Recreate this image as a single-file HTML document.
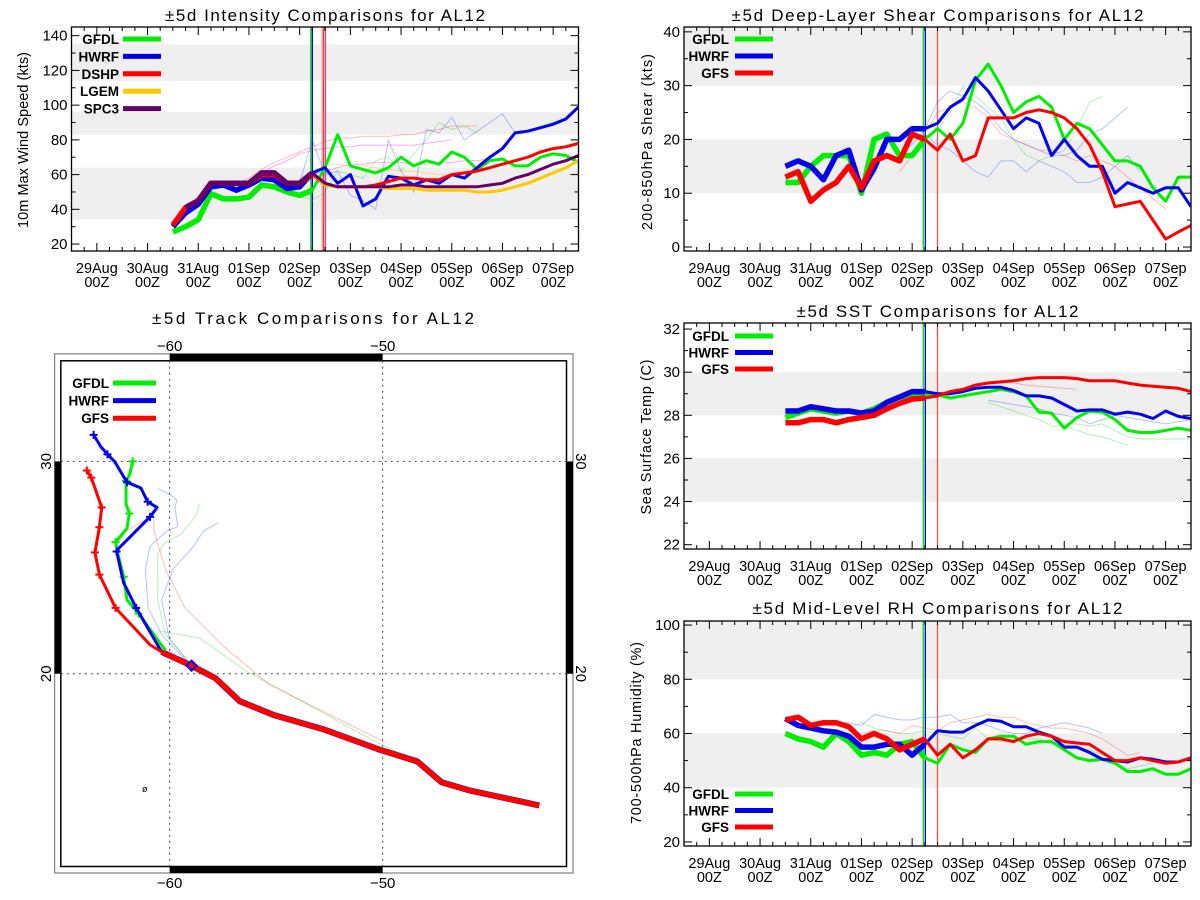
<!DOCTYPE html>
<html><head><meta charset="utf-8">
<style>
html,body{margin:0;padding:0;background:#fff;}
svg{display:block;font-family:"Liberation Sans",sans-serif;}
</style></head>
<body>
<svg id="chart" width="1200" height="900" viewBox="0 0 1200 900" xmlns="http://www.w3.org/2000/svg"></svg>
<script>
// ---------- DATA ----------
const times = [1.5,1.75,2,2.25,2.5,2.75,3,3.25,3.5,3.75,4,4.25,4.5,4.75,5,5.25,5.5,5.75,6,6.25,6.5,6.75,7,7.25,7.5,7.75,8,8.25,8.5,8.75,9,9.25,9.5];
const dayLabels = ['29Aug','30Aug','31Aug','01Sep','02Sep','03Sep','04Sep','05Sep','06Sep','07Sep'];
const hourLabel = '00Z';

// intensity (kts)
const intGFDL = [27,30,34,49,46,46,47,54,53,50,48,51,64,83,65,63,61,64,70,65,68,66,73,70,63,68,69,65,65,70,72,71,67];
const intHWRF = [30,38,43,53,54,51,54,58,57,52,53,61,64,55,60,42,46,59,58,54,57,55,60,58,64,70,75,84,85,87,89,92,99];
const intDSHP = [31,41,45,55,55,55,55,60,60,55,55,60,54,53,53,53,54,56,58,58,57,57,60,61,62,64,66,68,70,73,75,76,78];
const intLGEMStart = 4.25;
const intLGEM = [61,54,53,53,53,53,52,52,52,51,51,51,51,50,50,51,53,55,58,61,64,68];
const intSPC3Start = 1.75;
const intSPC3 = [41,45,55,55,55,55,61,61,55,55,61,55,53,53,53,53,53,54,54,53,53,53,53,53,54,55,58,60,63,66,68,71];
const intFaintRed = [55,58,63,67,70,73,76,79,81,81,82,82,82,83,83,85,86,88,88,88];
const intFaintMag = [57,61,65,68,72,74,75,76,76,77,77,77,77,77,78,79,80];
const intFaintBlue = [58,52,55,80,60,62,48,45,40,80,62,50,86,84,93,80,85,90,95,84];
const intFaintGreen = [48,45,50,62,60,58,68,70,62,72,80,90,86,88,84];
const intFaintOrange = [66,66,65,65,64,63,62,62,61,60,60,60,61];
const intFaintMag2 = [55,60,62,64,66,66,67,67,67,66,66,67,67,68,68,69,69];

// shear (kts)
const shrGFDL = [12,12,15,17,17,17,10,20,21,17,17,20,22,20,23,31,34,30,25,27,28,26,20,23,22,19,16,16,15,11,8.5,13,13];
const shrHWRF = [15,16,15,12.5,17,18,10.6,14.6,20,20,22,22,23,26,27.5,31.5,29,25.5,22,24,23,17,20,17,15,15,10,12,11,10,11,11,7.5];
const shrGFS = [13,14,8.5,10.6,12,15,11,16,17,16,21,20,18,21,16,17,24,24,24,25,25.5,25,24,22,19,14,7.5,8,8.5,5,1.5,2.8,4];
const shrFaintBlue1 = [17,19,22,27,29,28,27,25,22,20,19,18,17,17,18,21,22,24,26];
const shrFaintBlue2 = [20,21,19,18,16,14,13,16,16,14,16,15,14,12,12,13,15,17,14];
const shrFaintRed = [14,17,21,25,26,27,26,24,21,20,19,18,18,17,16,17,16,15,13,11,9,7];
const shrFaintGreen = [21,23,22,25,30,28,26,24,20,17,16,17,18,22,27,28];

// SST (C)
const sstGFDL = [27.9,28.1,28.3,28.2,28.1,28.2,28.1,28.3,28.6,28.85,28.9,28.95,28.95,28.8,28.9,29.0,29.1,29.2,29.1,28.9,28.15,28.1,27.4,27.9,28.2,28.15,27.8,27.3,27.2,27.2,27.3,27.4,27.3];
const sstHWRF = [28.2,28.2,28.4,28.3,28.2,28.2,28.1,28.2,28.6,28.85,29.1,29.1,29.0,29.0,29.1,29.25,29.3,29.3,29.15,28.9,28.9,28.8,28.5,28.2,28.25,28.25,28.05,28.15,28.05,27.85,28.2,27.95,27.85];
const sstGFS = [27.65,27.65,27.8,27.8,27.65,27.8,27.9,28.0,28.3,28.55,28.75,28.8,28.9,29.1,29.2,29.4,29.5,29.55,29.6,29.7,29.75,29.75,29.75,29.7,29.6,29.6,29.6,29.5,29.4,29.35,29.3,29.25,29.1];
const sstFaintGreen1 = [28.6,28.4,28.2,28.0,27.8,27.5,27.5,27.3,27.1,27.0,26.8,26.6];
const sstFaintGreen2 = [28.3,28.0,27.6,27.6,27.5,27.6,27.3,27.0,26.9,26.9,26.9,26.9,26.9];
const sstFaintBlue = [28.7,28.6,28.5,28.4,28.3,28.1,28.0,27.9,27.6,27.8,28.0,27.9,27.8,27.7,27.6,27.7,27.8,27.3,27.6];
const sstFaintRed = [29.5,29.6,29.5,29.4,29.35,29.3,29.25,29.2];

// RH (%)
const rhGFDL = [60,58,57,55,60,57,52,53,52,56,57,51,49,56,54,53,58,59,59,56,57,57,54,51,50,50.5,49,46,46,47,45,45,47];
const rhHWRF = [65.5,63,62,61,60.5,59,55,55,56,56,52,56,61,60.5,60.5,63,65,64.5,62.5,62.5,60.5,59,55,55,53,50.5,50,49.5,51,50.5,49.5,49.5,51];
const rhGFS = [65,66,63,64,64,62.5,58,60,58,54,56,58,52,56,51,54,58,58,57,59,60,59,57,56.5,56,53,50,50,51,50,49,49.5,51];
const rhFaintBlue = [64,64,63,67,66,65,65,66,66,67,64,64,63,61,60,60,62,63,64,63,62,60];
const rhFaintRed = [60,61,61,60,63,62,61,64,65,66,67,66,66,64,63,62,62,61,60,58,55,52,53];
const rhFaintGreen = [60,62,64,62,61,60,60,61,60,59,58,62,58,57,58,58,58,56,56,55,54,52,50,47,48,49];

// track (lon, lat)
const histLon = [-42.65,-45.95,-47.24,-48.38,-50.11,-52.81,-55.08,-56.70,-57.84,-58.97,-60.38];
const histLat = [13.8,14.51,14.89,15.87,16.41,17.39,18.04,18.70,19.78,20.38,21.03];
const gfsLon = [-60.38,-60.92,-62.54,-63.30,-63.51,-63.30,-63.19,-63.68,-63.89];
const gfsLat = [21.03,21.36,23.10,24.67,25.71,26.90,27.83,29.24,29.57];
const hwrfLon = [-60.38,-61.57,-62.16,-62.49,-62.38,-60.92,-60.59,-61.03,-61.35,-62.00,-62.59,-62.92,-63.24,-63.57];
const hwrfLat = [21.03,23.10,24.29,25.76,25.92,27.39,27.83,28.10,28.75,29.02,30.0,30.33,30.71,31.25];
const gfdlLon = [-60.2,-61.46,-62.0,-62.16,-62.43,-62.54,-62.0,-61.89,-62.05,-62.05,-61.89,-61.73];
const gfdlLat = [21.1,22.83,23.48,24.57,25.65,26.20,26.85,27.55,27.99,29.08,29.35,30.0];
const faintBlueALon = [-58.94,-60.38,-61.01,-61.14,-60.92,-60.11,-59.62,-59.75,-59.66,-60.02,-60.56];
const faintBlueALat = [20.31,21.85,23.12,24.93,26.01,26.74,26.92,27.83,28.19,28.46,28.73];
const faintBlueBLon = [-58.94,-60.02,-60.38,-59.84,-58.94,-58.39,-57.71];
const faintBlueBLat = [20.31,21.67,23.48,24.93,25.92,26.74,27.10];
const faintGreenALon = [-58.94,-60.2,-60.56,-60.56,-60.2,-59.48,-58.75,-58.61];
const faintGreenALat = [20.4,21.85,23.48,25.65,26.2,26.56,27.46,28.0];
const faintGreenBLon = [-60.56,-58.57,-56.41,-54.24,-50.63,-48.47];
const faintGreenBLat = [22.03,21.67,20.13,18.95,16.96,15.87];
const faintRedLon = [-62.55,-62.0,-61.1,-60.74,-60.74,-60.2,-59.3,-57.49,-55.32,-49.91];
const faintRedLat = [26.01,26.74,27.28,27.46,26.74,24.93,23.12,21.3,19.49,16.78];

// ---------- DRAWING ----------
const svg = document.getElementById('chart');
const NS = 'http://www.w3.org/2000/svg';
function mk(tag, attrs, parent){const e=document.createElementNS(NS,tag);for(const k in attrs)e.setAttribute(k,attrs[k]);(parent||svg).appendChild(e);return e;}

function panel(cfg){
  const g = mk('g',{});
  
  
  const tmin=-0.5,tmax=9.5;
  const xs = t => cfg.x0 + (t-tmin)/(tmax-tmin)*(cfg.x1-cfg.x0);
  const ys = v => cfg.y1 - (v-cfg.ymin)/(cfg.ymax-cfg.ymin)*(cfg.y1-cfg.y0);
  // bands
  cfg.bands.forEach(b=>{
    const r = mk('rect',{x:cfg.x0,y:ys(Math.min(b[1],cfg.ymax)),width:cfg.x1-cfg.x0,height:ys(b[0])-ys(Math.min(b[1],cfg.ymax)),fill:'#efefef'},g);
    
    
  });
  // clip
  const cid = cfg.name+'-clip';
  const cp = mk('clipPath',{id:cid},g);
  mk('rect',{x:cfg.x0,y:cfg.y0,width:cfg.x1-cfg.x0,height:cfg.y1-cfg.y0},cp);
  const pg = mk('g',{'clip-path':'url(#'+cid+')'},g);
  // vertical lines
  cfg.vlines.forEach(v=>{
    if(v.band){
      const r = mk('rect',{x:xs(v.t)-2.5,y:cfg.y0,width:5,height:cfg.y1-cfg.y0,fill:v.band,opacity:0.7},pg);
      
      
    }
    const l = mk('line',{x1:xs(v.t),x2:xs(v.t),y1:cfg.y0,y2:cfg.y1,stroke:v.c,'stroke-width':1.3},pg);
    
    
  });
  const line = (vals,start,color,w,op,nm) => {
    const pts = vals.map((v,i)=>xs(start+i*0.25).toFixed(1)+','+ys(v).toFixed(1)).join(' ');
    const p = mk('polyline',{points:pts,fill:'none',stroke:color,'stroke-width':w,opacity:op,'stroke-linejoin':'round'},pg);
    
    
  };
  cfg.faint.forEach(f=>line(f.vals,f.start,f.c,1,0.35,'faint-forecast-line'));
  cfg.series.forEach(s=>{
    const start = s.start===undefined?1.5:s.start;
    const split = Math.round((4.25-start)/0.25);
    if(split>0){
      line(s.vals.slice(0,split+1),start,s.c,5.5,1,s.label.toLowerCase()+'-history-line');
      line(s.vals.slice(split),4.25,s.c,3,1,s.label.toLowerCase()+'-forecast-line');
    } else line(s.vals,start,s.c,3,1,s.label.toLowerCase()+'-forecast-line');
  });
  // frame
  const fr = mk('rect',{x:cfg.x0,y:cfg.y0,width:cfg.x1-cfg.x0,height:cfg.y1-cfg.y0,fill:'none',stroke:'#000','stroke-width':1.3},g);
  
  
  // x ticks
  for(let k=0;k<=40;k++){
    const t=tmin+k*0.25; const major = Math.abs(t-Math.round(t))<1e-6;
    const L = major?8:4;
    mk('line',{x1:xs(t),x2:xs(t),y1:cfg.y1,y2:cfg.y1-L,stroke:'#000','stroke-width':1},g);
    mk('line',{x1:xs(t),x2:xs(t),y1:cfg.y0,y2:cfg.y0+L,stroke:'#000','stroke-width':1},g);
  }
  dayLabels.forEach((d,i)=>{
    const t1 = mk('text',{x:xs(i),y:cfg.y1+22,'text-anchor':'middle','font-size':14.5},g);
    t1.textContent = d;
    
    
    const t2 = mk('text',{x:xs(i),y:cfg.y1+36,'text-anchor':'middle','font-size':14.5},g);
    t2.textContent = hourLabel;
    
    
  });
  // y ticks
  for(let v=cfg.yt0; v<=cfg.yt1+1e-6; v+=cfg.ystep/2){
    const major = Math.abs(((v-cfg.yt0)/cfg.ystep)-Math.round((v-cfg.yt0)/cfg.ystep))<1e-6;
    const L = major?8:4;
    mk('line',{x1:cfg.x0,x2:cfg.x0+L,y1:ys(v),y2:ys(v),stroke:'#000'},g);
    mk('line',{x1:cfg.x1,x2:cfg.x1-L,y1:ys(v),y2:ys(v),stroke:'#000'},g);
    if(major){
      const t = mk('text',{x:cfg.x0-4,y:ys(v)+5,'text-anchor':'end','font-size':15},g);
      t.textContent = String(Math.round(v));
      
      
    }
  }
  // titles
  const tt = mk('text',{x:(cfg.x0+cfg.x1)/2,y:cfg.titleY,'text-anchor':'middle','font-size':17,textLength:cfg.titleLen,lengthAdjust:'spacing'},g);
  tt.textContent = cfg.title;
  
  
  const yt = mk('text',{x:0,y:0,'text-anchor':'middle','font-size':14.5,transform:`translate(${cfg.ytx},${cfg.yty}) rotate(-90)`,textLength:cfg.ytLen,lengthAdjust:'spacing'},g);
  yt.textContent = cfg.ytitle;
  
  
  // legend
  cfg.series.forEach((s,i)=>{
    const yy = cfg.legY + i*cfg.legDy;
    const lt = mk('text',{x:cfg.legTextX,y:yy+5,'text-anchor':'end','font-size':13.5,'font-weight':'bold'},g);
    lt.textContent = s.label;
    
    
    const ll = mk('line',{x1:cfg.legX1,x2:cfg.legX2,y1:yy,y2:yy,stroke:s.c,'stroke-width':5},g);
    
    
  });
}

const G='#00ee00',B='#0000ee',R='#ff0000',Y='#ffc800',P='#660066';
const vR = [{t:4.22,c:'#00dd00'},{t:4.26,c:'#0000ee'},{t:4.5,c:'#ff5050'}];

panel({name:'intensity-panel',x0:71.5,x1:578.5,y0:27,y1:251,ymin:16,ymax:145,yt0:20,yt1:140,ystep:20,
  bands:[[34,64],[83,96],[114,135]],
  vlines:[{t:4.22,c:'#00dd00'},{t:4.25,c:'#0000ee'},{t:4.47,c:'#ff3030',band:'#ffb0b0'},{t:4.51,c:'#a060a0'}],
  title:'±5d Intensity Comparisons for AL12',titleY:21,titleLen:320,
  ytitle:'10m Max Wind Speed (kts)',ytx:28,yty:140,ytLen:176,
  legTextX:119,legX1:123,legX2:161,legY:39,legDy:17.4,
  faint:[{vals:intFaintRed,start:2.75,c:'#ff4040'},{vals:intFaintMag,start:3.0,c:'#ff00ff'},{vals:intFaintBlue,start:3.5,c:'#3050ff'},{vals:intFaintGreen,start:4.0,c:'#30d030'},{vals:intFaintOrange,start:4.5,c:'#ffaa00'},{vals:intFaintMag2,start:4.0,c:'#ff00ff'}],
  series:[{label:'GFDL',vals:intGFDL,c:G},{label:'HWRF',vals:intHWRF,c:B},{label:'DSHP',vals:intDSHP,c:R},{label:'LGEM',vals:intLGEM,start:intLGEMStart,c:Y},{label:'SPC3',vals:intSPC3,start:intSPC3Start,c:P}]
});

panel({name:'shear-panel',x0:684,x1:1191,y0:27,y1:251,ymin:-0.74,ymax:40.9,yt0:0,yt1:40,ystep:10,
  bands:[[10,20],[30,41]],vlines:vR,
  title:'±5d Deep-Layer Shear Comparisons for AL12',titleY:21,titleLen:412,
  ytitle:'200-850hPa Shear (kts)',ytx:652,yty:142,ytLen:176,
  legTextX:729,legX1:735,legX2:773,legY:39,legDy:17,
  faint:[{vals:shrFaintBlue1,start:3.75,c:'#3050ff'},{vals:shrFaintBlue2,start:4.0,c:'#3050ff'},{vals:shrFaintRed,start:3.75,c:'#ff4040'},{vals:shrFaintGreen,start:4.0,c:'#30d030'}],
  series:[{label:'GFDL',vals:shrGFDL,c:G},{label:'HWRF',vals:shrHWRF,c:B},{label:'GFS',vals:shrGFS,c:R}]
});

panel({name:'sst-panel',x0:684,x1:1191,y0:323,y1:549,ymin:21.8,ymax:32.28,yt0:22,yt1:32,ystep:2,
  bands:[[24,26],[28,30]],vlines:vR,
  title:'±5d SST Comparisons for AL12',titleY:317,titleLen:282,
  ytitle:'Sea Surface Temp (C)',ytx:651,yty:437,ytLen:155,
  legTextX:729,legX1:735,legX2:773,legY:336,legDy:16.5,
  faint:[{vals:sstFaintGreen1,start:5.5,c:'#30d030'},{vals:sstFaintGreen2,start:6.5,c:'#30d030'},{vals:sstFaintBlue,start:5.5,c:'#3050ff'},{vals:sstFaintRed,start:5.5,c:'#ff4040'}],
  series:[{label:'GFDL',vals:sstGFDL,c:G},{label:'HWRF',vals:sstHWRF,c:B},{label:'GFS',vals:sstGFS,c:R}]
});

panel({name:'rh-panel',x0:684,x1:1191,y0:621,y1:846,ymin:18.5,ymax:101.5,yt0:20,yt1:100,ystep:20,
  bands:[[40,60],[80,101.5]],vlines:vR,
  title:'±5d Mid-Level RH Comparisons for AL12',titleY:614,titleLen:370,
  ytitle:'700-500hPa Humidity (%)',ytx:641,yty:733,ytLen:182,
  legTextX:729,legX1:735,legX2:773,legY:794,legDy:16.5,
  faint:[{vals:rhFaintBlue,start:2.5,c:'#3050ff'},{vals:rhFaintRed,start:3.0,c:'#ff4040'},{vals:rhFaintGreen,start:2.5,c:'#30d030'}],
  series:[{label:'GFDL',vals:rhGFDL,c:G},{label:'HWRF',vals:rhHWRF,c:B},{label:'GFS',vals:rhGFS,c:R}]
});

// ---------- TRACK ----------
(function(){
  const g = mk('g',{});
  
  
  const ix0=60.8,ix1=566.5,iy0=360.8,iy1=866.5;
  const lonMin=-65.11,lonMax=-41.37,latMin=10.92,latMax=34.74;
  const X = lon => ix0 + (lon-lonMin)/(lonMax-lonMin)*(ix1-ix0);
  const Yy = lat => iy1 - (lat-latMin)/(latMax-latMin)*(iy1-iy0);
  const tt = mk('text',{x:313,y:324,'text-anchor':'middle','font-size':17,textLength:322,lengthAdjust:'spacing'},g);
  tt.textContent='±5d Track Comparisons for AL12';
  
  
  const ob = mk('rect',{x:54.6,y:353.8,width:518.4,height:519.2,fill:'none',stroke:'#888','stroke-width':1.3},g);
  
  
  // black bars
  [[X(-60),353.8,X(-50)-X(-60),7],[X(-60),iy1,X(-50)-X(-60),6.5],[54.6,Yy(30),6.2,Yy(20)-Yy(30)],[ix1,Yy(30),6.5,Yy(20)-Yy(30)]].forEach(b=>{
    const r = mk('rect',{x:b[0],y:b[1],width:b[2],height:b[3],fill:'#000'},g);
    
    
  });
  const ib = mk('rect',{x:ix0,y:iy0,width:ix1-ix0,height:iy1-iy0,fill:'none',stroke:'#000','stroke-width':1.5},g);
  
  
  [-60,-50].forEach(lon=>{
    const l = mk('line',{x1:X(lon),x2:X(lon),y1:iy0,y2:iy1,stroke:'#444','stroke-dasharray':'2,4'},g);
    
    
    [351,888].forEach(yy=>{
      const t = mk('text',{x:X(lon),y:yy,'text-anchor':'middle','font-size':15},g);
      t.textContent = '\u2212'+Math.abs(lon);
      
      
    });
  });
  [20,30].forEach(lat=>{
    const l = mk('line',{x1:ix0,x2:ix1,y1:Yy(lat),y2:Yy(lat),stroke:'#444','stroke-dasharray':'2,4'},g);
    
    
    const t1 = mk('text',{x:0,y:0,'text-anchor':'middle','font-size':15,transform:`translate(51,${Yy(lat)}) rotate(-90)`},g);
    t1.textContent = String(lat);
    
    
    const t2 = mk('text',{x:0,y:0,'text-anchor':'middle','font-size':15,transform:`translate(576,${Yy(lat)}) rotate(90)`},g);
    t2.textContent = String(lat);
    
    
  });
  const trk = (lons,lats,c,w,op,nm) => {
    const p = mk('polyline',{points:lons.map((lo,i)=>X(lo).toFixed(1)+','+Yy(lats[i]).toFixed(1)).join(' '),fill:'none',stroke:c,'stroke-width':w,opacity:op,'stroke-linejoin':'round'},g);
    
    
  };
  trk(faintBlueALon,faintBlueALat,'#3050ff',1,0.35,'faint-track');
  trk(faintBlueBLon,faintBlueBLat,'#3050ff',1,0.35,'faint-track');
  trk(faintGreenALon,faintGreenALat,'#30d030',1,0.35,'faint-track');
  trk(faintGreenBLon,faintGreenBLat,'#30d030',1,0.35,'faint-track');
  trk(faintRedLon,faintRedLat,'#ff4040',1,0.35,'faint-track');
  trk(histLon,histLat,G,6,1,'gfdl-track-history');
  trk(histLon,histLat,B,6,1,'hwrf-track-history');
  trk(histLon,histLat,R,5.5,1,'gfs-track-history');
  const cross = (lo,la,c) => {
    const x=X(lo),y=Yy(la);
    const p = mk('path',{d:`M${x-4},${y}H${x+4}M${x},${y-4}V${y+4}`,stroke:c,'stroke-width':2},g);
    
    
  };
  trk(gfdlLon,gfdlLat,G,3,1,'gfdl-track-forecast');
  gfdlLon.forEach((lo,i)=>{ if(i>0 && i%2===1) cross(lo,gfdlLat[i],G); });
  trk(hwrfLon,hwrfLat,B,3,1,'hwrf-track-forecast');
  hwrfLon.forEach((lo,i)=>{ if(i>0 && i%2===1) cross(lo,hwrfLat[i],B); });
  trk(gfsLon,gfsLat,R,3,1,'gfs-track-forecast');
  gfsLon.forEach((lo,i)=>{ if(i>1) cross(lo,gfsLat[i],R); });
  const dx=X(histLon[9]),dy=Yy(histLat[9]);
  const dm = mk('path',{d:`M${dx},${dy-5}L${dx+5},${dy}L${dx},${dy+5}L${dx-5},${dy}Z`,fill:'none',stroke:B,'stroke-width':2},g);
  
  
  const sm = mk('text',{x:142,y:792,'font-size':9},g);
  sm.textContent='ø';
  
  
  [['GFDL',G],['HWRF',B],['GFS',R]].forEach((e,i)=>{
    const yy = 383 + i*17.6;
    const t = mk('text',{x:109,y:yy+5,'text-anchor':'end','font-size':13.5,'font-weight':'bold'},g);
    t.textContent = e[0];
    
    
    const l = mk('line',{x1:113,x2:156,y1:yy,y2:yy,stroke:e[1],'stroke-width':5},g);
    
    
  });
})();
</script>
</body></html>
